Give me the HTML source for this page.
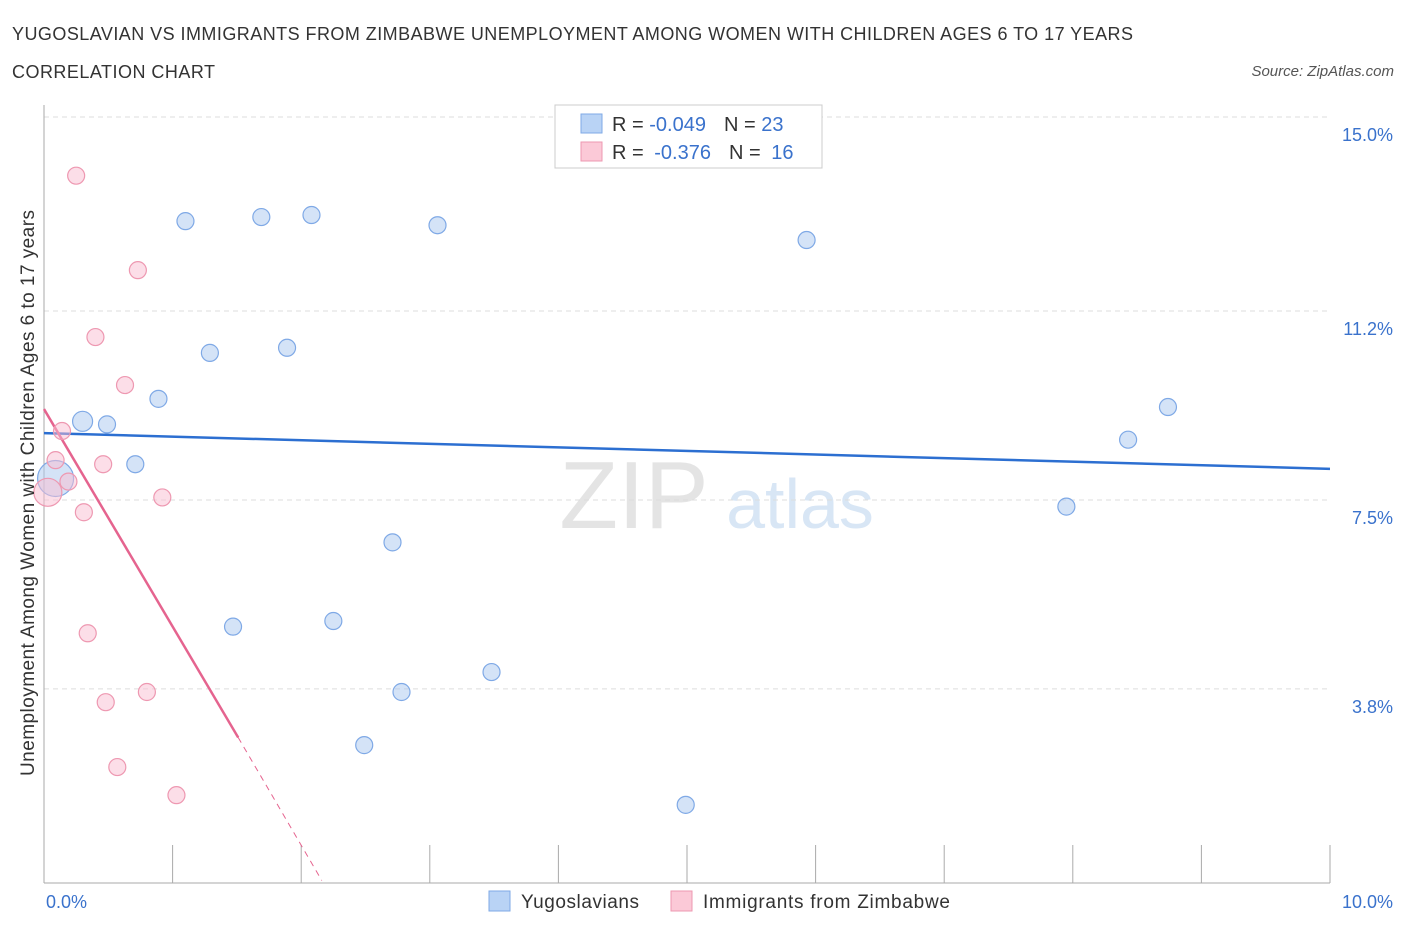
<!DOCTYPE html>
<html><head><meta charset="utf-8"><style>
body{margin:0;background:#fff;font-family:"Liberation Sans",sans-serif;}
svg text{font-family:"Liberation Sans",sans-serif;}
</style></head><body>
<svg id="chart" width="1406" height="930">
<text x="12" y="40" font-size="18" fill="#333" textLength="1121">YUGOSLAVIAN VS IMMIGRANTS FROM ZIMBABWE UNEMPLOYMENT AMONG WOMEN WITH CHILDREN AGES 6 TO 17 YEARS</text>
<text x="12" y="78" font-size="18" fill="#333" textLength="203">CORRELATION CHART</text>
<text x="1394" y="76" font-size="15" fill="#555" font-style="italic" text-anchor="end">Source: ZipAtlas.com</text>
<text x="634" y="528" font-size="96" fill="#e4e4e4" font-family="Liberation Serif" text-anchor="middle">ZIP</text>
<text x="800" y="528" font-size="70" fill="#d8e6f5" text-anchor="middle">atlas</text>
<g id="grid"></g><g id="axes"></g><g id="trend"></g><g id="points"></g>
<g>
<rect x="555" y="105" width="267" height="63" fill="#fff" stroke="#ccc"/>
<rect x="581" y="114" width="21" height="19" fill="#b9d3f5" stroke="#7fa9e6"/>
<rect x="581" y="142" width="21" height="19" fill="#fbc9d7" stroke="#ee98b1"/>
<text x="612" y="131" font-size="20" fill="#333">R = <tspan fill="#3a72cc">-0.049</tspan><tspan dx="18">N = </tspan><tspan fill="#3a72cc">23</tspan></text>
<text x="612" y="159" font-size="20" fill="#333">R = <tspan fill="#3a72cc" dx="5">-0.376</tspan><tspan dx="18">N = </tspan><tspan fill="#3a72cc" dx="5">16</tspan></text>
</g>
<g>
<rect x="489" y="891" width="21" height="20" fill="#b9d3f5" stroke="#7fa9e6"/>
<text x="521" y="908" font-size="19" fill="#333" textLength="118">Yugoslavians</text>
<rect x="671" y="891" width="21" height="20" fill="#fbc9d7" stroke="#ee98b1"/>
<text x="703" y="908" font-size="19" fill="#333" textLength="247">Immigrants from Zimbabwe</text>
</g>
<text transform="translate(34,493) rotate(-90)" font-size="19" fill="#333" text-anchor="middle" textLength="566">Unemployment Among Women with Children Ages 6 to 17 years</text>
</svg>
<script>
const yTicks=[3.8,7.5,11.2,15.0];
const yTickLabels=["3.8%","7.5%","11.2%","15.0%"];
const blueX=[0.30,0.49,0.71,0.89,1.10,1.29,1.47,1.69,1.89,2.08,2.25,2.49,2.71,2.78,3.06,3.48,4.99,5.93,7.95,8.43,8.74,0.09];
const blueY=[9.04,8.98,8.20,9.48,12.96,10.38,5.02,13.04,10.48,13.08,5.13,2.70,6.67,3.74,12.88,4.13,1.53,12.59,7.37,8.68,9.32,7.92];
const blueR=[10,8.5,8.5,8.5,8.5,8.5,8.5,8.5,8.5,8.5,8.5,8.5,8.5,8.5,8.5,8.5,8.5,8.5,8.5,8.5,8.5,18];
const pinkX=[0.25,0.73,0.40,0.63,0.14,0.09,0.46,0.19,0.92,0.03,0.31,0.34,0.48,0.80,0.57,1.03];
const pinkY=[13.85,12.0,10.69,9.75,8.85,8.28,8.20,7.86,7.55,7.65,7.26,4.89,3.54,3.74,2.27,1.72];
const pinkR=[8.5,8.5,8.5,8.5,8.5,8.5,8.5,8.5,8.5,14,8.5,8.5,8.5,8.5,8.5,8.5];
const blueTrend=[8.81,8.11];
const pinkTrend=[9.28,2.85,0.05];
const pinkTrendX=[0,1.51,2.16];
const X=v=>44+v*128.6, Y=v=>883-v*51.07;
const NS="http://www.w3.org/2000/svg";
function mk(tag,parent,attrs){const e=document.createElementNS(NS,tag);for(const k in attrs)e.setAttribute(k,attrs[k]);document.getElementById(parent).appendChild(e);return e;}
yTicks.forEach((t,i)=>{
 const g=mk('line','grid',{x1:44,x2:1330,y1:Y(t),y2:Y(t),stroke:'#ddd','stroke-dasharray':'5,4'});
 
 
 const l=mk('text','grid',{x:1393,y:Y(t)+24,'font-size':18,fill:'#3a72cc','text-anchor':'end'});
 l.textContent=yTickLabels[i];
 
 
});
const ax=mk('line','axes',{x1:44,x2:1330,y1:883,y2:883,stroke:'#aaa'});


const ay=mk('line','axes',{x1:44,x2:44,y1:105,y2:883,stroke:'#aaa'});


for(let i=1;i<=10;i++){const t=mk('line','axes',{x1:X(i),x2:X(i),y1:845,y2:883,stroke:'#aaa'});
 
 }
const x0=mk('text','axes',{x:46,y:908,'font-size':18,fill:'#3a72cc'});x0.textContent='0.0%';


const x1=mk('text','axes',{x:1393,y:908,'font-size':18,fill:'#3a72cc','text-anchor':'end'});x1.textContent='10.0%';


const bt=mk('line','trend',{x1:X(0),x2:X(10),y1:Y(blueTrend[0]),y2:Y(blueTrend[1]),stroke:'#2c6fd1','stroke-width':2.5});


const pt=mk('line','trend',{x1:X(pinkTrendX[0]),x2:X(pinkTrendX[1]),y1:Y(pinkTrend[0]),y2:Y(pinkTrend[1]),stroke:'#e5648f','stroke-width':2.5});


const pd=mk('line','trend',{x1:X(pinkTrendX[1]),x2:X(pinkTrendX[2]),y1:Y(pinkTrend[1]),y2:Y(pinkTrend[2]),stroke:'#e5648f','stroke-width':1,'stroke-dasharray':'6,5'});


blueX.forEach((v,i)=>{const c=mk('circle','points',{cx:X(v),cy:Y(blueY[i]),r:blueR[i],fill:'rgba(170,200,240,0.5)',stroke:'#7fa9e6','stroke-width':1.2});
 
 });
pinkX.forEach((v,i)=>{const c=mk('circle','points',{cx:X(v),cy:Y(pinkY[i]),r:pinkR[i],fill:'rgba(250,190,210,0.5)',stroke:'#ee98b1','stroke-width':1.2});
 
 });
</script>
</body></html>
